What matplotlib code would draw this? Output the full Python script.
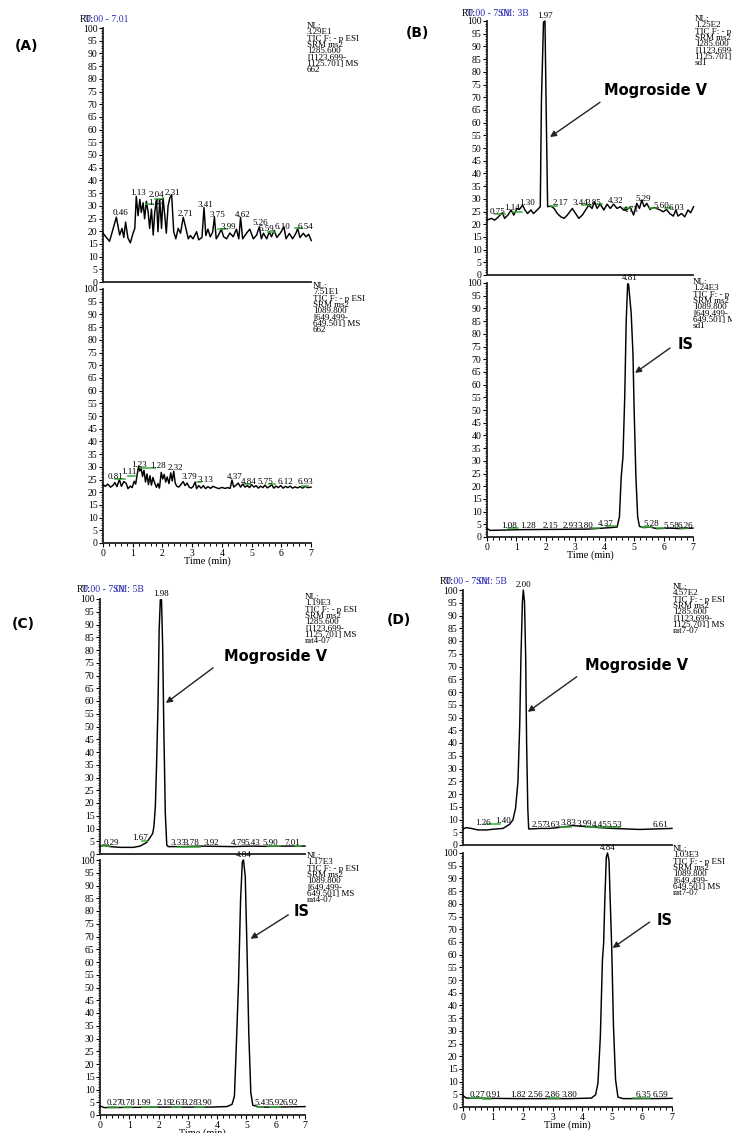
import matplotlib
matplotlib.use("Agg")
import matplotlib.pyplot as plt
from matplotlib.ticker import MultipleLocator

plt.rcParams["font.family"] = ["Liberation Serif", "DejaVu Serif"]

W, H = 732, 1133
GREEN = "#3aa83a"
BLUE = "#2b2bb0"

# ---- traces: (time min, relative abundance %) ----
A_TOP = [(0.00, 19.2), (0.22, 16.0), (0.45, 25.5), (0.56, 18.5), (0.64, 21.1), (0.70, 17.5), (0.76, 23.6),
         (0.84, 17.3), (0.92, 15.4), (1.01, 19.2), (1.07, 21.1), (1.12, 33.7), (1.18, 26.1), (1.24, 32.5),
         (1.29, 27.4), (1.35, 31.2), (1.40, 24.9), (1.46, 31.8), (1.52, 27.4), (1.57, 21.1), (1.63, 28.7),
         (1.69, 18.5), (1.74, 27.4), (1.80, 32.5), (1.85, 19.8), (1.91, 32.5), (1.97, 21.1), (2.02, 33.1),
         (2.08, 26.1), (2.13, 19.2), (2.19, 29.9), (2.25, 33.1), (2.31, 34.4), (2.38, 19.8), (2.45, 17.0),
         (2.53, 21.1), (2.61, 19.2), (2.70, 25.5), (2.79, 21.1), (2.87, 17.0), (2.94, 18.3), (3.03, 17.0),
         (3.15, 19.8), (3.22, 16.6), (3.33, 17.5), (3.40, 29.3), (3.46, 18.3), (3.53, 20.8), (3.61, 17.8),
         (3.69, 19.6), (3.75, 25.5), (3.81, 17.0), (3.89, 18.5), (3.98, 20.8), (4.06, 17.8), (4.16, 17.0),
         (4.27, 19.3), (4.38, 17.8), (4.49, 20.8), (4.57, 17.0), (4.63, 25.5), (4.70, 17.0), (4.83, 19.2),
         (4.94, 20.8), (5.06, 17.0), (5.17, 18.5), (5.26, 21.7), (5.33, 17.0), (5.40, 19.2), (5.51, 17.0),
         (5.60, 19.8), (5.67, 17.8), (5.76, 20.3), (5.85, 17.5), (5.97, 19.3), (6.09, 21.7), (6.16, 17.0),
         (6.27, 19.1), (6.38, 17.0), (6.49, 19.1), (6.55, 21.1), (6.63, 17.5), (6.74, 19.2), (6.83, 17.8),
         (6.92, 18.8), (7.01, 16.3)]
A_BOT = [(0.00, 23.0), (0.08, 22.3), (0.16, 23.2), (0.25, 22.0), (0.33, 22.6), (0.40, 23.8), (0.47, 22.2),
         (0.55, 25.0), (0.62, 22.3), (0.70, 24.2), (0.78, 23.5), (0.84, 21.4), (0.92, 22.4), (0.98, 21.8),
         (1.05, 24.3), (1.10, 23.2), (1.15, 27.0), (1.20, 30.3), (1.24, 28.3), (1.28, 29.8), (1.33, 26.2),
         (1.38, 28.6), (1.43, 24.0), (1.48, 27.2), (1.53, 23.0), (1.58, 26.5), (1.63, 22.8), (1.68, 25.8),
         (1.74, 23.6), (1.80, 21.9), (1.85, 23.4), (1.90, 21.6), (1.96, 27.8), (2.01, 25.2), (2.06, 27.0),
         (2.11, 24.0), (2.16, 26.0), (2.22, 23.4), (2.28, 27.6), (2.33, 24.4), (2.38, 28.3), (2.43, 23.6),
         (2.48, 22.4), (2.55, 22.0), (2.62, 23.0), (2.70, 24.2), (2.76, 22.6), (2.83, 23.6), (2.90, 22.0),
         (2.97, 21.6), (3.03, 22.2), (3.10, 24.0), (3.15, 21.4), (3.22, 22.6), (3.30, 21.6), (3.38, 22.6),
         (3.45, 21.4), (3.53, 22.2), (3.62, 21.5), (3.70, 22.3), (3.80, 21.8), (3.90, 21.4), (4.00, 21.9),
         (4.10, 21.5), (4.20, 21.8), (4.28, 21.5), (4.34, 24.8), (4.40, 22.0), (4.48, 22.8), (4.55, 23.6),
         (4.63, 22.0), (4.70, 23.2), (4.78, 22.0), (4.86, 22.6), (4.93, 21.8), (5.00, 23.0), (5.08, 22.0),
         (5.15, 22.6), (5.23, 21.6), (5.30, 22.4), (5.38, 21.8), (5.45, 22.8), (5.53, 21.7), (5.60, 22.2),
         (5.68, 22.9), (5.75, 21.6), (5.82, 22.4), (5.90, 21.8), (5.98, 22.6), (6.06, 21.6), (6.14, 22.3),
         (6.22, 21.8), (6.30, 22.4), (6.38, 21.6), (6.46, 22.1), (6.55, 21.7), (6.63, 22.2), (6.72, 21.6),
         (6.80, 22.3), (6.90, 21.8), (7.00, 22.0)]
B_TOP = [(0.00, 21.6), (0.15, 22.3), (0.26, 21.6), (0.37, 22.7), (0.52, 24.5), (0.60, 22.3), (0.71, 23.6),
         (0.82, 25.6), (0.91, 23.6), (1.02, 26.2), (1.10, 25.8), (1.21, 27.5), (1.29, 25.6), (1.38, 24.2),
         (1.49, 25.6), (1.58, 24.2), (1.72, 25.8), (1.81, 26.9), (1.85, 68.8), (1.92, 99.6), (1.97, 100.0),
         (2.01, 66.0), (2.06, 26.9), (2.17, 27.1), (2.28, 26.2), (2.39, 24.2), (2.51, 22.9), (2.62, 22.3),
         (2.73, 23.6), (2.90, 26.2), (3.01, 24.2), (3.12, 22.3), (3.24, 23.6), (3.35, 25.6), (3.46, 27.5),
         (3.57, 26.2), (3.65, 28.8), (3.74, 26.2), (3.85, 27.9), (3.97, 25.6), (4.08, 27.9), (4.19, 26.2),
         (4.30, 27.9), (4.42, 26.2), (4.53, 26.9), (4.64, 25.6), (4.75, 25.8), (4.87, 26.6), (4.98, 23.6),
         (5.09, 28.2), (5.18, 26.2), (5.26, 29.5), (5.34, 26.9), (5.43, 28.2), (5.54, 25.8), (5.65, 26.6),
         (5.76, 26.2), (5.88, 25.6), (5.99, 24.9), (6.10, 25.8), (6.21, 24.2), (6.33, 23.2), (6.42, 25.6),
         (6.49, 23.2), (6.61, 24.2), (6.72, 22.9), (6.83, 25.6), (6.92, 24.5), (7.02, 26.9)]
B_BOT = [(0.00, 3.3), (0.11, 2.6), (1.18, 2.9), (2.30, 3.0), (3.42, 3.1), (4.20, 3.7), (4.42, 3.9),
         (4.50, 7.9), (4.56, 23.6), (4.62, 31.5), (4.68, 55.0), (4.73, 85.0), (4.78, 99.7), (4.81, 99.5),
         (4.85, 94.5), (4.90, 88.0), (4.96, 72.0), (5.00, 50.0), (5.06, 23.6), (5.12, 7.9), (5.18, 4.2),
         (5.32, 3.7), (5.54, 3.9), (5.77, 3.3), (6.21, 3.5), (6.55, 3.3), (7.00, 3.5)]
C_TOP = [(0.00, 2.9), (0.11, 3.5), (0.34, 2.9), (0.68, 2.6), (1.14, 2.6), (1.37, 3.1), (1.59, 4.5),
         (1.73, 6.8), (1.80, 8.1), (1.84, 10.7), (1.89, 18.6), (1.93, 34.3), (1.98, 57.9), (2.02, 88.0),
         (2.06, 99.7), (2.10, 99.7), (2.14, 81.4), (2.18, 48.7), (2.23, 16.0), (2.28, 3.5), (2.33, 2.9),
         (2.84, 2.9), (3.41, 3.1), (3.98, 3.0), (4.55, 2.9), (5.12, 3.1), (5.69, 3.0), (6.26, 3.1), (7.00, 3.1)]
C_BOT = [(0.00, 3.5), (0.15, 2.9), (2.07, 3.1), (3.77, 3.1), (4.34, 3.3), (4.51, 4.2), (4.59, 7.4),
         (4.65, 25.7), (4.73, 51.8), (4.80, 84.4), (4.86, 99.3), (4.90, 100.0), (4.96, 93.5), (5.02, 64.8),
         (5.08, 32.2), (5.15, 8.7), (5.22, 3.8), (5.47, 3.1), (6.04, 3.1), (7.00, 3.3)]
D_TOP = [(0.00, 6.3), (0.11, 6.8), (0.28, 6.5), (0.50, 5.9), (0.78, 5.9), (1.12, 6.3), (1.34, 6.5),
         (1.56, 8.1), (1.67, 9.8), (1.76, 14.4), (1.84, 24.8), (1.90, 47.1), (1.94, 73.2), (1.99, 95.4),
         (2.02, 100.0), (2.06, 95.4), (2.10, 73.2), (2.13, 40.5), (2.17, 14.4), (2.20, 6.3), (2.29, 6.3),
         (2.57, 6.5), (2.90, 6.5), (3.24, 6.9), (3.68, 7.6), (4.13, 7.2), (4.58, 6.8), (5.02, 6.5),
         (5.47, 6.3), (5.92, 6.1), (6.47, 6.3), (7.00, 6.5)]
D_BOT = [(0.00, 4.5), (0.11, 3.5), (1.90, 3.3), (3.57, 3.3), (4.30, 3.5), (4.44, 4.8), (4.52, 9.4),
         (4.60, 27.7), (4.67, 57.9), (4.71, 64.4), (4.75, 81.4), (4.80, 98.4), (4.84, 100.0), (4.89, 97.1),
         (4.93, 81.4), (4.98, 63.1), (5.04, 31.7), (5.11, 10.7), (5.19, 3.9), (5.36, 3.3), (6.36, 3.3),
         (7.00, 3.4)]

# ---- peak labels: (text, time, abundance) ----
A_TOP_PEAKS = [("0.46", 0.60, 25.5), ("1.13", 1.18, 33.5), ("1.47", 1.80, 29.7), ("2.04", 1.80, 32.5),
               ("2.31", 2.35, 33.5), ("2.71", 2.78, 25.3), ("3.41", 3.46, 28.7), ("3.75", 3.85, 24.9),
               ("3.99", 4.20, 20.2), ("4.62", 4.70, 24.9), ("5.26", 5.30, 21.5), ("5.59", 5.50, 19.2),
               ("6.10", 6.05, 20.2), ("6.54", 6.80, 20.2)]
A_BOT_PEAKS = [("0.81", 0.43, 24.5), ("1.11", 0.88, 26.3), ("1.23", 1.21, 29.2), ("1.28", 1.85, 28.9),
               ("2.32", 2.42, 27.9), ("3.79", 2.90, 24.3), ("3.13", 3.43, 23.3), ("4.37", 4.45, 24.5),
               ("4.84", 4.92, 22.5), ("5.75", 5.45, 22.5), ("6.12", 6.15, 22.3), ("6.93", 6.80, 22.3)]
B_TOP_PEAKS = [("0.75", 0.37, 23.2), ("1.14", 0.84, 24.9), ("1.30", 1.36, 26.9), ("1.97", 1.97, 100.3),
               ("2.17", 2.49, 26.6), ("3.44", 3.18, 26.6), ("3.85", 3.63, 26.9), ("4.32", 4.36, 27.5),
               ("4.73", 4.87, 24.2), ("5.29", 5.31, 28.4), ("5.60", 5.93, 25.6), ("6.03", 6.44, 24.9)]
B_BOT_PEAKS = [("1.08", 0.75, 2.9), ("1.28", 1.38, 2.9), ("2.15", 2.16, 2.9), ("2.93", 2.85, 2.9),
               ("3.80", 3.33, 2.9), ("4.37", 4.03, 3.6), ("4.81", 4.85, 100.3), ("5.28", 5.58, 3.4),
               ("5.58", 6.25, 2.9), ("6.26", 6.74, 2.9)]
C_TOP_PEAKS = [("0.29", 0.40, 2.9), ("1.67", 1.37, 4.8), ("1.98", 2.10, 100.3), ("3.33", 2.67, 2.9),
               ("3.78", 3.13, 2.9), ("3.92", 3.81, 2.9), ("4.79", 4.74, 2.9), ("5.43", 5.20, 2.9),
               ("5.90", 5.82, 2.9), ("7.01", 6.56, 2.9)]
C_BOT_PEAKS = [("0.27", 0.49, 3.1), ("0.78", 0.94, 3.1), ("1.99", 1.48, 3.1), ("2.19", 2.19, 3.1),
               ("2.63", 2.64, 3.1), ("3.28", 3.09, 3.1), ("3.90", 3.57, 3.1), ("4.84", 4.90, 100.3),
               ("5.43", 5.55, 3.1), ("5.92", 6.00, 3.1), ("6.92", 6.49, 3.1)]
D_TOP_PEAKS = [("1.26", 0.68, 7.2), ("1.40", 1.34, 7.8), ("2.00", 2.04, 100.3), ("2.57", 2.57, 6.1),
               ("3.63", 3.01, 6.1), ("3.83", 3.52, 6.9), ("3.99", 4.07, 6.5), ("4.45", 4.58, 6.1),
               ("5.53", 5.08, 6.1), ("6.61", 6.61, 6.1)]
D_BOT_PEAKS = [("0.27", 0.47, 3.1), ("0.91", 1.03, 3.1), ("1.82", 1.84, 3.1), ("2.56", 2.42, 3.1),
               ("2.86", 3.01, 3.1), ("3.80", 3.57, 3.1), ("4.84", 4.86, 100.3), ("6.35", 6.03, 3.1),
               ("6.59", 6.61, 3.1)]

# ---- green baseline marks: (start, end, abundance) ----
A_TOP_MARKS = [(1.46, 1.69, 30.6), (1.74, 2.02, 32.8), (3.88, 4.16, 20.8), (5.56, 5.79, 19.8), (6.46, 6.69, 21.1)]
A_BOT_MARKS = [(0.39, 0.73, 25.2), (0.84, 1.07, 26.3), (1.24, 1.74, 29.6), (3.15, 3.31, 23.9),
               (4.78, 4.94, 23.2), (5.60, 5.80, 23.3), (6.70, 6.90, 22.3)]
B_TOP_MARKS = [(0.27, 0.60, 23.9), (0.87, 1.18, 24.9), (2.18, 2.39, 27.2), (3.23, 3.53, 27.5),
               (3.73, 3.90, 27.8), (4.64, 4.87, 26.2), (5.54, 5.75, 26.4), (6.05, 6.25, 26.2)]
B_BOT_MARKS = [(0.73, 1.06, 3.5), (3.53, 3.80, 3.7), (4.03, 4.37, 4.2), (5.26, 5.60, 4.0),
               (5.77, 6.05, 3.5), (6.55, 6.83, 3.5)]
C_TOP_MARKS = [(0.06, 0.34, 3.3), (1.42, 1.59, 5.2), (2.67, 3.41, 2.9), (5.69, 6.14, 3.1), (6.66, 6.88, 3.1)]
C_BOT_MARKS = [(0.26, 0.60, 3.3), (0.77, 1.10, 3.3), (1.45, 1.96, 3.0), (2.47, 2.75, 3.1),
               (3.26, 3.54, 3.3), (5.36, 5.58, 3.3), (5.81, 6.15, 3.3)]
D_TOP_MARKS = [(0.73, 1.23, 8.1), (3.24, 3.63, 6.9), (4.13, 5.25, 6.9)]
D_BOT_MARKS = [(0.22, 0.73, 3.5), (0.67, 0.95, 3.3), (2.85, 3.24, 3.5), (5.69, 6.25, 3.5)]

# ---- scan header text ----
NL_A_TOP = ["NL:", "3.29E1", "TIC F: - p ESI", "SRM ms2", "1285.600", "[1123.699-", "1125.701] MS", "662"]
NL_A_BOT = ["NL:", "7.51E1", "TIC F: - p ESI", "SRM ms2", "1089.800", "[649.499-", "649.501] MS", "662"]
NL_B_TOP = ["NL:", "1.25E2", "TIC F: - p ESI", "SRM ms2", "1285.600", "[1123.699-", "1125.701] MS", "sd1"]
NL_B_BOT = ["NL:", "1.24E3", "TIC F: - p ESI", "SRM ms2", "1089.800", "[649.499-", "649.501] MS", "sd1"]
NL_C_TOP = ["NL:", "1.19E3", "TIC F: - p ESI", "SRM ms2", "1285.600", "[1123.699-", "1125.701] MS", "rat4-07"]
NL_C_BOT = ["NL:", "1.17E3", "TIC F: - p ESI", "SRM ms2", "1089.800", "[649.499-", "649.501] MS", "rat4-07"]
NL_D_TOP = ["NL:", "4.57E2", "TIC F: - p ESI", "SRM ms2", "1285.600", "[1123.699-", "1125.701] MS", "rat7-07"]
NL_D_BOT = ["NL:", "1.03E3", "TIC F: - p ESI", "SRM ms2", "1089.800", "[649.499-", "649.501] MS", "rat7-07"]

fig = plt.figure(figsize=(W / 100, H / 100), dpi=100)


def add_axes_px(x0, x7, y100, y0):
    return fig.add_axes([x0 / W, 1 - y0 / H, (x7 - x0) / W, (y0 - y100) / H])


def chromatogram(ax, trace, peaks, marks, with_time_axis):
    t, inten = zip(*trace)
    ax.plot(t, inten, color="black", lw=1.05, clip_on=False, zorder=3)
    for start, end, level in marks:
        ax.plot([start, end], [level, level], color=GREEN, lw=1.1, zorder=4)
    for text, x, y in peaks:
        ax.text(x, y, text, ha="center", va="bottom", fontsize=6.5, zorder=5)
    ax.set_xlim(0, 7)
    ax.set_ylim(0, 100)
    for side in ["top", "right"]:
        ax.spines[side].set_visible(False)
    for side in ["left", "bottom"]:
        ax.spines[side].set_linewidth(1.3)
        ax.spines[side].set_color("#222222")
    ax.yaxis.set_major_locator(MultipleLocator(5))
    ax.yaxis.set_minor_locator(MultipleLocator(1))
    ax.tick_params(axis="y", which="major", direction="out", length=3, width=0.8, labelsize=7, pad=1)
    ax.tick_params(axis="y", which="minor", direction="out", length=1.5, width=0.6)
    if with_time_axis:
        ax.xaxis.set_major_locator(MultipleLocator(1))
        ax.xaxis.set_minor_locator(MultipleLocator(0.2))
        ax.tick_params(axis="x", which="major", direction="out", length=3, width=0.8, labelsize=7, pad=1)
        ax.tick_params(axis="x", which="minor", direction="out", length=1.8, width=0.7)
        ax.set_xlabel("Time (min)", fontsize=7.5, labelpad=-1)
    else:
        ax.set_xticks([])
    ax.patch.set_alpha(0)


def nl_block(x, y, lines):
    fig.text(x / W, 1 - y / H, "\n".join(lines), ha="left", va="top", fontsize=6.5, linespacing=0.72)


def rt_header(x, y, sm=None):
    fig.text(x / W, 1 - y / H, "RT:", ha="left", va="center", fontsize=7)
    fig.text((x + 6) / W, 1 - y / H, "0.00 - 7.01", ha="left", va="center", fontsize=7, color=BLUE)
    if sm:
        fig.text((x + 36) / W, 1 - y / H, sm, ha="left", va="center", fontsize=7, color=BLUE)


def callout(ax, text, text_xy, tail_xy, head_xy, size):
    ax.annotate("", xy=head_xy, xytext=tail_xy,
                arrowprops=dict(arrowstyle="-|>", color="#222222", lw=1.0, mutation_scale=9,
                                shrinkA=0, shrinkB=0))
    ax.text(text_xy[0], text_xy[1], text, ha="center", va="center", fontsize=size,
            fontweight="bold", family="DejaVu Sans")


# (A) blank
ax = add_axes_px(103, 311, 28, 282)
chromatogram(ax, A_TOP, A_TOP_PEAKS, A_TOP_MARKS, False)
ax = add_axes_px(103, 311, 289, 543)
chromatogram(ax, A_BOT, A_BOT_PEAKS, A_BOT_MARKS, True)
rt_header(80, 19)
nl_block(307, 22, NL_A_TOP)
nl_block(313, 282, NL_A_BOT)

# (B) standard
ax = add_axes_px(487, 693, 21, 275)
chromatogram(ax, B_TOP, B_TOP_PEAKS, B_TOP_MARKS, False)
callout(ax, "Mogroside V", (5.74, 72.8), (3.84, 68.0), (2.14, 54.3), 10.5)
ax = add_axes_px(487, 693, 283, 537)
chromatogram(ax, B_BOT, B_BOT_PEAKS, B_BOT_MARKS, True)
callout(ax, "IS", (6.76, 75.6), (6.22, 74.4), (5.03, 64.6), 10.5)
rt_header(462, 13, "SM: 3B")
nl_block(695, 15, NL_B_TOP)
nl_block(693, 278, NL_B_BOT)

# (C) rat plasma 4
ax = add_axes_px(100, 305, 599, 854)
chromatogram(ax, C_TOP, C_TOP_PEAKS, C_TOP_MARKS, False)
callout(ax, "Mogroside V", (6.0, 77.3), (3.86, 73.0), (2.25, 59.2), 10.5)
ax = add_axes_px(100, 305, 860, 1115)
chromatogram(ax, C_BOT, C_BOT_PEAKS, C_BOT_MARKS, True)
callout(ax, "IS", (6.9, 80.0), (6.43, 78.5), (5.14, 69.1), 10.5)
rt_header(77, 590, "SM: 5B")
nl_block(305, 593, NL_C_TOP)
nl_block(307, 852, NL_C_BOT)

# (D) rat plasma 7
ax = add_axes_px(463, 672, 590, 845)
chromatogram(ax, D_TOP, D_TOP_PEAKS, D_TOP_MARKS, False)
callout(ax, "Mogroside V", (5.82, 70.2), (3.81, 66.0), (2.17, 52.2), 10.5)
ax = add_axes_px(463, 672, 853, 1107)
chromatogram(ax, D_BOT, D_BOT_PEAKS, D_BOT_MARKS, True)
callout(ax, "IS", (6.76, 73.6), (6.25, 72.8), (5.01, 62.6), 10.5)
rt_header(440, 582, "SM: 5B")
nl_block(673, 583, NL_D_TOP)
nl_block(673, 845, NL_D_BOT)

for label, x, y in [("(A)", 26, 46), ("(B)", 417, 33), ("(C)", 23, 624), ("(D)", 399, 620)]:
    fig.text(x / W, 1 - y / H, label, ha="center", va="center", fontsize=10, fontweight="bold",
             family="DejaVu Sans")

fig.savefig("out.png", dpi=100)
